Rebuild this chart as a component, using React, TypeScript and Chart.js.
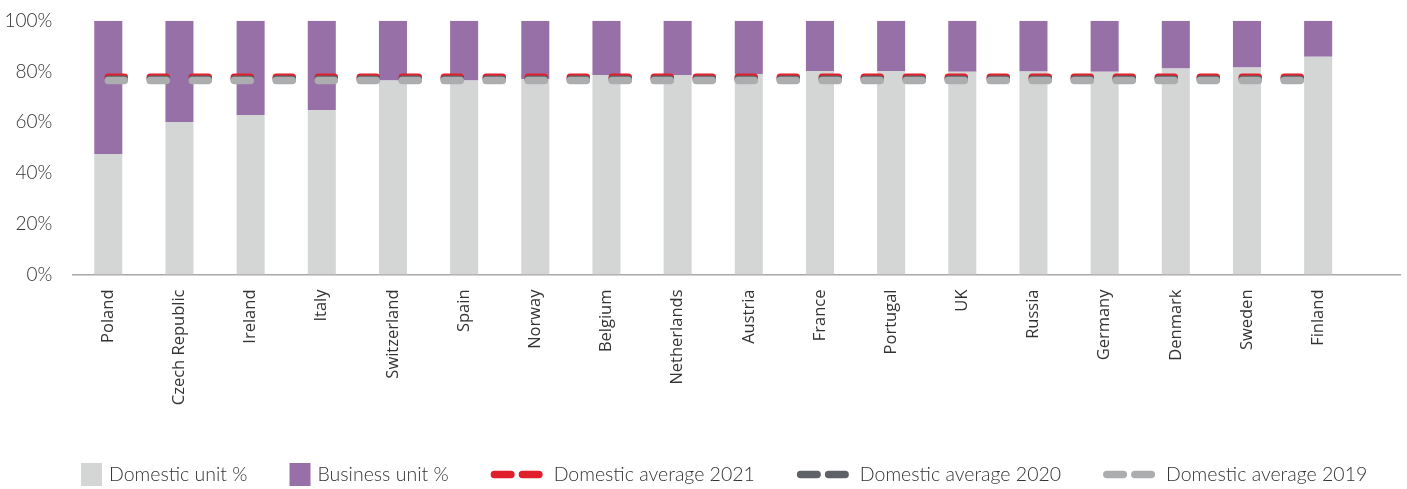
import React, { useEffect, useRef } from 'react';
import { Chart, registerables } from 'chart.js';

Chart.register(...registerables);

const categories = [
  'Poland', 'Czech Republic', 'Ireland', 'Italy', 'Switzerland', 'Spain',
  'Norway', 'Belgium', 'Netherlands', 'Austria', 'France', 'Portugal',
  'UK', 'Russia', 'Germany', 'Denmark', 'Sweden', 'Finland',
];
const domesticUnit = [47.5, 60.1, 62.8, 64.8, 76.4, 76.4, 76.9, 78.6, 78.6, 79.0, 80.2, 80.2, 79.9, 80.0, 79.9, 81.2, 81.6, 85.8];
const businessUnit = [52.5, 39.9, 37.2, 35.2, 23.6, 23.6, 23.1, 21.4, 21.4, 21.0, 19.8, 19.8, 20.1, 20.0, 20.1, 18.8, 18.4, 14.2];
const domesticAverage2021 = [77.7, 77.7, 77.7, 77.7, 77.7, 77.7, 77.7, 77.7, 77.7, 77.7, 77.7, 77.7, 77.7, 77.7, 77.7, 77.7, 77.7, 77.7];
const domesticAverage2020 = [76.9, 76.9, 76.9, 76.9, 76.9, 76.9, 76.9, 76.9, 76.9, 76.9, 76.9, 76.9, 76.9, 76.9, 76.9, 76.9, 76.9, 76.9];
const domesticAverage2019 = [76.4, 76.4, 76.4, 76.4, 76.4, 76.4, 76.4, 76.4, 76.4, 76.4, 76.4, 76.4, 76.4, 76.4, 76.4, 76.4, 76.4, 76.4];
const yTickValues = [0, 20, 40, 60, 80, 100];
const yTickLabels = ['0%', '20%', '40%', '60%', '80%', '100%'];

const seriesLabels = ['Domestic unit %', 'Business unit %', 'Domestic average 2021', 'Domestic average 2020', 'Domestic average 2019'];
const COLORS = {
  domestic: '#D4D6D5',
  business: '#9870A8',
  avg2021: '#E11F2A',
  avg2020: '#5E6266',
  avg2019: '#ABADAF',
};
const TEXT = '#333333';
const LEGEND_FONT = '300 19.5px Lato';

const toPoints = (arr: number[]) => arr.map((v, i) => ({ x: i, y: v }));

const legendPlugin = {
  id: 'customLegend',
  afterDraw(chart: any) {
    const ctx = chart.ctx as CanvasRenderingContext2D;
    ctx.save();
    ctx.font = LEGEND_FONT;
    ctx.textBaseline = 'middle';
    const cy = 474.5;
    let x = 81;
    chart.data.datasets.forEach((ds: any) => {
      if (ds.type === 'bar') {
        ctx.fillStyle = ds.backgroundColor;
        ctx.fillRect(x, cy - 11.5, 21, 23);
        x += 28;
      } else {
        ctx.strokeStyle = ds.borderColor;
        ctx.lineWidth = 7.5;
        ctx.lineCap = 'round';
        ctx.beginPath();
        ctx.moveTo(x + 3.75, cy);
        ctx.lineTo(x + 20.25, cy);
        ctx.moveTo(x + 31.75, cy);
        ctx.lineTo(x + 48.25, cy);
        ctx.stroke();
        x += 63;
      }
      ctx.fillStyle = TEXT;
      ctx.fillText(ds.label, x, cy);
      x += ctx.measureText(ds.label).width + 42;
    });
    ctx.restore();
  },
};

export default function App() {
  const canvasRef = useRef<HTMLCanvasElement | null>(null);

  useEffect(() => {
    if (!canvasRef.current) return;
    const lineCommon = {
      type: 'line' as const,
      borderWidth: 7.5,
      borderDash: [16, 26],
      borderCapStyle: 'round' as const,
      pointRadius: 0,
      pointHoverRadius: 0,
      fill: false,
      tension: 0,
    };
    const chart = new Chart(canvasRef.current, {
      type: 'bar',
      data: {
        datasets: [
          {
            type: 'bar',
            label: seriesLabels[0],
            data: toPoints(domesticUnit),
            backgroundColor: COLORS.domestic,
            borderWidth: 0,
            categoryPercentage: 1,
            barPercentage: 0.394,
            order: 10,
          },
          {
            type: 'bar',
            label: seriesLabels[1],
            data: toPoints(businessUnit),
            backgroundColor: COLORS.business,
            borderWidth: 0,
            categoryPercentage: 1,
            barPercentage: 0.394,
            order: 10,
          },
          {
            ...lineCommon,
            label: seriesLabels[2],
            data: toPoints(domesticAverage2021),
            borderColor: COLORS.avg2021,
            stack: 'a2021',
            order: 3,
          },
          {
            ...lineCommon,
            label: seriesLabels[3],
            data: toPoints(domesticAverage2020),
            borderColor: COLORS.avg2020,
            stack: 'a2020',
            order: 2,
          },
          {
            ...lineCommon,
            label: seriesLabels[4],
            data: toPoints(domesticAverage2019),
            borderColor: COLORS.avg2019,
            stack: 'a2019',
            order: 1,
          },
        ] as any,
      },
      options: {
        animation: false,
        responsive: true,
        maintainAspectRatio: false,
        layout: { padding: { top: 20.7, right: 6.3, bottom: 0, left: 0 } },
        plugins: {
          legend: { display: false },
          tooltip: { enabled: false },
        },
        scales: {
          x: {
            type: 'linear',
            min: -0.5,
            max: 18.16,
            stacked: true,
            offset: false,
            grid: { display: false, drawTicks: false },
            border: { display: true, color: '#A8A8A8', width: 1.5 },
            afterBuildTicks: (axis: any) => {
              axis.ticks = categories.map((_, i) => ({ value: i }));
            },
            afterFit: (scale: any) => {
              scale.height = 489 - 274.5;
              scale.paddingLeft = 0;
              scale.paddingRight = 0;
            },
            ticks: {
              autoSkip: false,
              minRotation: 90,
              maxRotation: 90,
              padding: 15,
              color: TEXT,
              font: { family: 'Open Sans', size: 16.5, weight: '400' as any },
              callback: (value: any) => categories[value as number] ?? '',
            },
          },
          y: {
            min: 0,
            max: 100,
            stacked: true,
            grid: { display: false, drawTicks: false },
            border: { display: false },
            afterBuildTicks: (axis: any) => {
              axis.ticks = yTickValues.map((v) => ({ value: v }));
            },
            afterFit: (scale: any) => {
              scale.width = 72.7;
              scale.paddingTop = 0;
              scale.paddingBottom = 0;
            },
            ticks: {
              padding: 20.4,
              color: TEXT,
              font: { family: 'Lato', size: 19, weight: '300' as any },
              callback: (value: any) => yTickLabels[yTickValues.indexOf(value as number)] ?? '',
            },
          },
        },
      },
      plugins: [legendPlugin],
    });
    return () => chart.destroy();
  }, []);

  return (
    <div style={{ position: 'fixed', left: 0, top: 0, width: 1407, height: 489, background: '#fff' }}>
      <canvas ref={canvasRef} />
    </div>
  );
}
